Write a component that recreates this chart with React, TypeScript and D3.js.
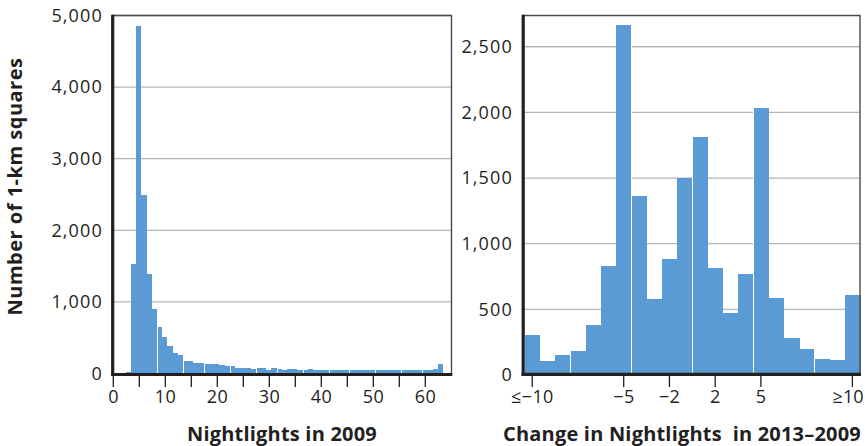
import React from "react";
import * as d3 from "d3";

// ---- Left panel: Nightlights in 2009 (bins of width 1) ----
const nightlightBins = d3.range(0, 64);
const nightlightCounts = [
  0, 0, 0, 20, 1530, 4860, 2490, 1385, 907, 655,
  516, 390, 293, 265, 181, 181, 153, 153, 126, 126,
  126, 112, 98, 98, 70, 70, 70, 56, 70, 70,
  42, 70, 56, 42, 56, 56, 42, 42, 56, 42,
  42, 42, 42, 42, 42, 42, 42, 42, 42, 42,
  42, 42, 42, 42, 42, 42, 42, 42, 42, 42,
  42, 42, 56, 126,
];
const leftYTicks = [0, 1000, 2000, 3000, 4000, 5000];
const leftXTicks = [0, 5, 10, 15, 20, 25, 30, 35, 40, 45, 50, 55, 60];

// ---- Right panel: Change in nightlights 2013–2009 ----
const changeBinLabels = [
  "≤−10", "", "", "", "", "", "−5", "", "", "−2", "",
  "", "2", "", "", "5", "", "", "", "", "", "≥10",
];
const changeCounts = [
  305, 107, 155, 185, 381, 830, 2666, 1363, 581, 883, 1500,
  1815, 815, 472, 769, 2033, 586, 282, 198, 122, 114, 609,
];
const rightYTicks = [0, 500, 1000, 1500, 2000, 2500];

const BAR = "#5b9bd5";
const GRID = "#b5b5b5";
const AXIS = "#231f20";
const FRAME = "#4a4a4a";
const FONT = "'Open Sans', 'Noto Sans', sans-serif";
const fmt = d3.format(",");

export default function App() {
  const top = 15.5;
  const xL = d3.scaleLinear().domain([0, 65]).range([113.3, 451.3]);
  const yL = d3.scaleLinear().domain([0, 5000]).range([373.5, top]);
  const xR = d3
    .scaleBand<number>()
    .domain(d3.range(changeCounts.length))
    .range([524.6, 860])
    .padding(0);
  const yR = d3.scaleLinear().domain([0, 2738]).range([375, top]);

  const leftGaps = d3.range(0, 12).map((k) => 8.5 + Math.round(k * 4.65));
  const ls = 1.1;
  const tls = 0.4;
  const lastIdx = changeBinLabels.length - 1;

  return (
    <svg
      width={865}
      height={446}
      style={{ position: "absolute", left: 0, top: 0, background: "#fff" }}
      fontFamily={FONT}
    >
      {/* ---------- LEFT PANEL ---------- */}
      {leftYTicks.slice(1).map((t) => (
        <line key={"lg" + t} x1={112} x2={451.5} y1={yL(t)} y2={yL(t)} stroke={GRID} strokeWidth={1.3} />
      ))}
      <g shapeRendering="crispEdges">
        {nightlightBins.map((v, i) =>
          nightlightCounts[i] > 0 ? (
            <rect
              key={"lb" + v}
              x={xL(v - 0.6)}
              width={xL(v + 0.4) - xL(v - 0.6)}
              y={yL(nightlightCounts[i])}
              height={yL(0) - yL(nightlightCounts[i])}
              fill={BAR}
            />
          ) : null
        )}
        {leftGaps.map((b) => {
          const idx = Math.floor(b + 0.5);
          const h = Math.max(nightlightCounts[idx] || 0, nightlightCounts[idx - 1] || 0);
          const gx = Math.round(xL(b - 0.1));
          return (
            <rect key={"lgap" + b} x={gx} width={1} y={yL(h)} height={yL(0) - yL(h)} fill="#fff" />
          );
        })}
      </g>
      <line x1={112} x2={452} y1={top} y2={top} stroke={FRAME} strokeWidth={1.4} />
      <line x1={451.5} x2={451.5} y1={top} y2={375} stroke={FRAME} strokeWidth={1.4} />
      <line x1={112.7} x2={112.7} y1={top - 0.7} y2={376} stroke={AXIS} strokeWidth={3.2} />
      <line x1={111} x2={452.2} y1={374.5} y2={374.5} stroke={AXIS} strokeWidth={3.2} />
      {leftXTicks.map((t) => (
        <line key={"lt" + t} x1={xL(t)} x2={xL(t)} y1={376} y2={387} stroke={AXIS} strokeWidth={1.3} />
      ))}
      {leftXTicks.filter((t) => t % 10 === 0).map((t) => (
        <text key={"ltl" + t} x={xL(t) + tls / 2} y={403} textAnchor="middle" fontSize={18} letterSpacing={tls} fill="#231f20">
          {t}
        </text>
      ))}
      {leftYTicks.map((t) => (
        <text key={"lyl" + t} x={101.7 + ls} y={yL(t)} dy="0.35em" textAnchor="end" fontSize={18} letterSpacing={ls} fill="#231f20">
          {fmt(t)}
        </text>
      ))}
      <text
        transform="translate(22,186.5) rotate(-90)"
        textAnchor="middle"
        fontSize={20}
        fontWeight={700}
        letterSpacing={0.5}
        fill="#231f20"
      >
        Number of 1-km squares
      </text>
      <text x={282} y={441} textAnchor="middle" fontSize={20} fontWeight={700} letterSpacing={0.2} fill="#231f20">
        Nightlights in 2009
      </text>

      {/* ---------- RIGHT PANEL ---------- */}
      {rightYTicks.slice(1).map((t) => (
        <line key={"rg" + t} x1={522} x2={860} y1={yR(t)} y2={yR(t)} stroke={GRID} strokeWidth={1.3} />
      ))}
      <g shapeRendering="crispEdges">
        {changeCounts.map((c, i) => (
          <rect
            key={"rb" + i}
            x={xR(i)!}
            width={xR.bandwidth() + 0.5}
            y={yR(c)}
            height={yR(0) - yR(c)}
            fill={BAR}
          />
        ))}
        {changeCounts.map((c, i) => {
          if (!(i % 4 === 2 && i < changeCounts.length - 1)) return null;
          const h = Math.max(c, changeCounts[i + 1]);
          const gx = Math.round(xR(i)! + xR.bandwidth());
          return <rect key={"rgap" + i} x={gx} width={1} y={yR(h)} height={yR(0) - yR(h)} fill="#fff" />;
        })}
      </g>
      <line x1={522} x2={860.5} y1={top} y2={top} stroke={FRAME} strokeWidth={1.4} />
      <line x1={860} x2={860} y1={top} y2={375} stroke={FRAME} strokeWidth={1.4} />
      <line x1={523.2} x2={523.2} y1={top - 0.7} y2={376} stroke={AXIS} strokeWidth={3.2} />
      <line x1={521.6} x2={861} y1={374.4} y2={374.4} stroke={AXIS} strokeWidth={3.2} />
      {changeBinLabels.map((lab, i) =>
        lab ? (
          <g key={"rt" + i}>
            <line
              x1={xR(i)! + xR.bandwidth() / 2}
              x2={xR(i)! + xR.bandwidth() / 2}
              y1={376}
              y2={387}
              stroke={AXIS}
              strokeWidth={1.3}
            />
            <text
              x={i === lastIdx ? 863.5 : xR(i)! + xR.bandwidth() / 2 + tls / 2}
              y={403}
              textAnchor={i === lastIdx ? "end" : "middle"}
              fontSize={18}
              letterSpacing={i === lastIdx ? 0 : tls}
              fill="#231f20"
            >
              {lab}
            </text>
          </g>
        ) : null
      )}
      {rightYTicks.map((t) => (
        <text key={"ryl" + t} x={511.7 + ls} y={yR(t)} dy="0.35em" textAnchor="end" fontSize={18} letterSpacing={ls} fill="#231f20">
          {fmt(t)}
        </text>
      ))}
      <text x={682} y={441} textAnchor="middle" fontSize={20} fontWeight={700} letterSpacing={0.2} fill="#231f20" style={{ whiteSpace: "pre" }}>
        {"Change in Nightlights  in 2013–2009"}
      </text>
    </svg>
  );
}
